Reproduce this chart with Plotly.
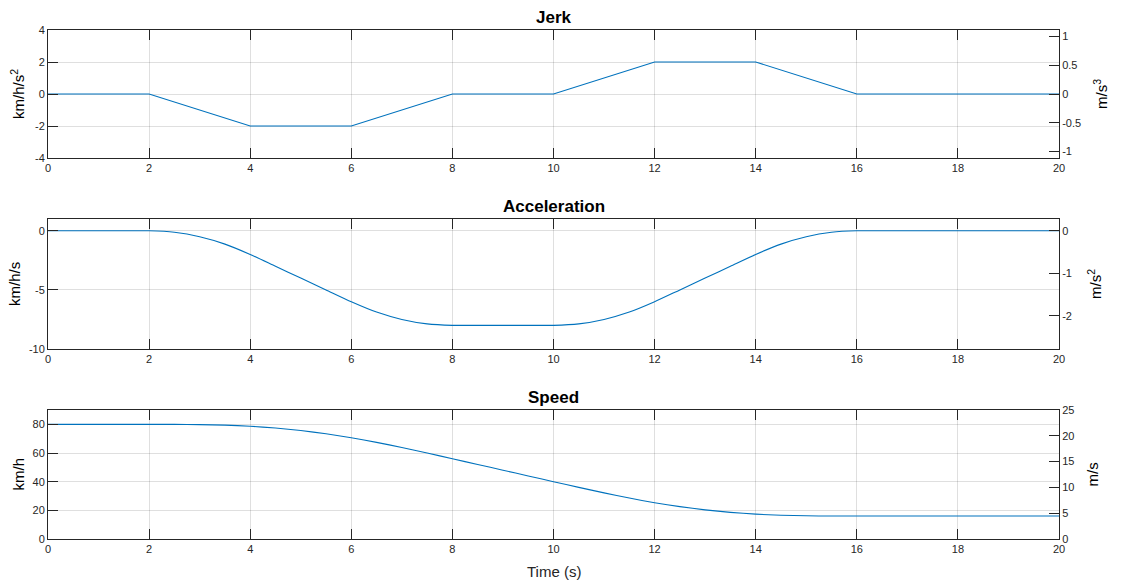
import plotly.graph_objects as go

# ---- data -------------------------------------------------------------
# Jerk profile (km/h/s^2): piecewise linear breakpoints
jerk_t = [0, 2, 4, 6, 8, 10, 12, 14, 16, 20]
jerk_v = [0, 0, -2, -2, 0, 0, 2, 2, 0, 0]

# Acceleration (km/h/s) and speed (km/h), sampled every 0.5 s
time_s = [i * 0.5 for i in range(41)]
accel_v = [0, 0, 0, 0, 0, -0.125, -0.5, -1.125, -2, -3, -4, -5, -6,
           -6.875, -7.5, -7.875, -8, -8, -8, -8, -8, -7.875, -7.5, -6.875,
           -6, -5, -4, -3, -2, -1.125, -0.5, -0.125, 0, 0, 0, 0, 0, 0, 0, 0, 0]
speed_v = [80, 80, 80, 80, 80, 79.98, 79.83, 79.44, 78.67, 77.42, 75.67,
           73.42, 70.67, 67.44, 63.83, 59.98, 56.0, 52.0, 48.0, 44.0, 40.0,
           36.02, 32.17, 28.56, 25.33, 22.58, 20.33, 18.58, 17.33, 16.56,
           16.17, 16.02, 16, 16, 16, 16, 16, 16, 16, 16, 16]

# Tick values / labels (plain hyphen minus signs)
time_ticks = [0, 2, 4, 6, 8, 10, 12, 14, 16, 18, 20]
left_ticks = [[-4, -2, 0, 2, 4], [-10, -5, 0], [0, 20, 40, 60, 80]]
right_ticks = [[-1, -0.5, 0, 0.5, 1], [-2, -1, 0], [0, 5, 10, 15, 20, 25]]

titles = ["Jerk", "Acceleration", "Speed"]
left_units = ["km/h/s<sup>2</sup>", "km/h/s", "km/h"]
right_units = ["m/s<sup>3</sup>", "m/s<sup>2</sup>", "m/s"]
left_ranges = [[-4, 4], [-10, 1], [0, 90]]
KMH_PER_MS = 3.6


def fmt(v):
    s = f"{v:g}"
    return s.replace("\u2212", "-")


# ---- styling ----------------------------------------------------------
FONT = "Liberation Sans, Arial, Helvetica, sans-serif"
INK = "#262626"
GRID = "rgba(38,38,38,0.15)"
BLUE = "#0072BD"
W, H = 1125, 585

x_px = (48, 1059)
rows_px = [(30, 158), (219, 349), (410, 539)]
left_label_x = [17, 14, 18]
right_label_x = [1100, 1094, 1092]

fig = go.Figure()
series = [(jerk_t, jerk_v, "linear"), (time_s, accel_v, "spline"), (time_s, speed_v, "spline")]

layout = dict(
    width=W, height=H,
    margin=dict(l=0, r=0, t=0, b=0, pad=0, autoexpand=False),
    paper_bgcolor="white", plot_bgcolor="white",
    showlegend=False,
    font=dict(family=FONT, size=11, color=INK),
)
annotations = []
xdom = [x_px[0] / W, x_px[1] / W]
tickfont = dict(size=11, color=INK, family=FONT)
common = dict(showline=True, linecolor=INK, linewidth=1, ticks="inside",
              ticklen=10, tickcolor=INK, tickwidth=1, zeroline=False,
              automargin=False, fixedrange=True, tickfont=tickfont)

for i, ((top, bot), (xs, ys, shape)) in enumerate(zip(rows_px, series)):
    n = i + 1
    xa = "x" if n == 1 else f"x{n}"
    ya_l = f"y{2 * n - 1}" if n > 1 else "y"
    ya_r = f"y{2 * n}"
    ydom = [(H - bot) / H, (H - top) / H]

    fig.add_trace(go.Scatter(
        x=xs, y=ys, mode="lines", xaxis=xa, yaxis=ya_l,
        line=dict(color=BLUE, width=1.1, shape=shape, smoothing=0.6),
        hoverinfo="x+y"))
    # same series in SI units on the right-hand axis (invisible carrier)
    fig.add_trace(go.Scatter(
        x=xs, y=[v / KMH_PER_MS for v in ys], mode="lines", xaxis=xa, yaxis=ya_r,
        line=dict(color="rgba(0,0,0,0)", width=0, shape=shape),
        hoverinfo="skip"))

    rng = left_ranges[i]
    layout["xaxis" if n == 1 else f"xaxis{n}"] = dict(
        domain=xdom, anchor=ya_l, range=[0, 20],
        tickmode="array", tickvals=time_ticks, ticktext=[fmt(v) for v in time_ticks],
        mirror="ticks", showgrid=True, gridcolor=GRID, gridwidth=1, **common)
    layout["yaxis" if n == 1 else f"yaxis{2 * n - 1}"] = dict(
        domain=ydom, anchor=xa, range=rng,
        tickmode="array", tickvals=left_ticks[i],
        ticktext=[fmt(v) for v in left_ticks[i]],
        mirror=False, showgrid=True, gridcolor=GRID, gridwidth=1, **common)
    layout[f"yaxis{2 * n}"] = dict(
        overlaying=ya_l, side="right", anchor=xa,
        range=[rng[0] / KMH_PER_MS, rng[1] / KMH_PER_MS],
        tickmode="array", tickvals=right_ticks[i],
        ticktext=[fmt(v) for v in right_ticks[i]],
        showgrid=False, **common)

    mid_y = (ydom[0] + ydom[1]) / 2
    annotations.append(dict(
        text=f"<b>{titles[i]}</b>", xref="paper", yref="paper",
        x=(xdom[0] + xdom[1]) / 2, y=ydom[1], xanchor="center", yanchor="bottom",
        yshift=1, showarrow=False, font=dict(size=17, color="black", family=FONT)))
    annotations.append(dict(
        text=left_units[i], xref="paper", yref="paper", x=left_label_x[i] / W, y=mid_y,
        xanchor="center", yanchor="middle", textangle=-90, showarrow=False,
        font=dict(size=15, color="black", family=FONT)))
    annotations.append(dict(
        text=right_units[i], xref="paper", yref="paper", x=right_label_x[i] / W, y=mid_y,
        xanchor="center", yanchor="middle", textangle=-90, showarrow=False,
        font=dict(size=15, color="black", family=FONT)))

annotations.append(dict(
    text="Time (s)", xref="paper", yref="paper", x=(xdom[0] + xdom[1]) / 2,
    y=(H - 571) / H, xanchor="center", yanchor="middle", showarrow=False,
    font=dict(size=15, color=INK, family=FONT)))

layout["annotations"] = annotations
fig.update_layout(**layout)
fig.write_html("out.html")
